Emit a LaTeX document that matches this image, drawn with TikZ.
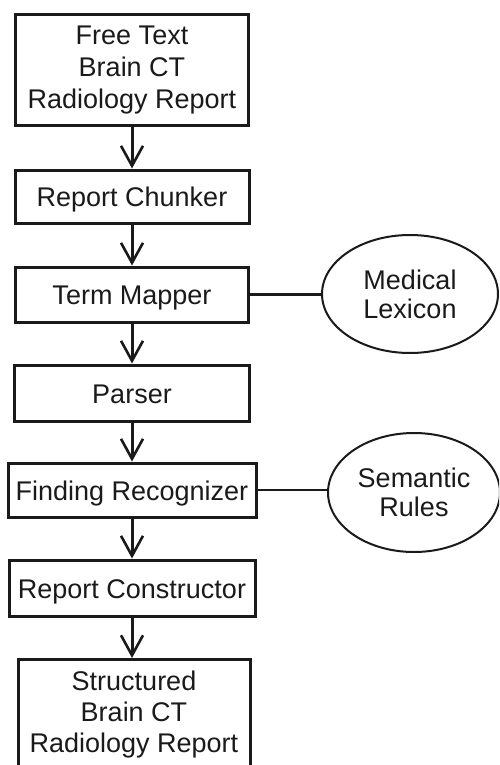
\documentclass[tikz,border=0pt]{standalone}
\usepackage{fontspec}
\setmainfont{Liberation Sans}
\usetikzlibrary{arrows.meta,shapes.geometric}
\definecolor{ink}{HTML}{1A1A1A}
\begin{document}
\begin{tikzpicture}[x=1pt,y=-1pt,
  stage/.style={draw=ink, line width=3pt, rectangle, inner sep=0pt,
    align=center, text=ink, font=\fontsize{27}{32}\selectfont},
  oneline/.style={text height=20pt, text depth=0pt},
  source/.style={ellipse, draw=ink, line width=2pt, inner sep=0pt,
    minimum width=176pt, minimum height=118pt,
    align=center, text=ink, font=\fontsize{27}{29}\selectfont},
  flow/.style={draw=ink, line width=3pt,
    -{Straight Barb[length=20pt,width=22pt,line width=2.6pt]}},
  link/.style={draw=ink, line width=2.2pt}]
\useasboundingbox (0,0) rectangle (499,765);
\clip (0,0) rectangle (499,765);

% pipeline stages
\node[stage, minimum width=233pt, minimum height=111pt] (input) at (132,70.5)
  {Free Text\\Brain CT\\Radiology Report};
\node[stage, oneline, minimum width=234pt, minimum height=53pt] (chunker) at (132,196.5)
  {Report Chunker};
\node[stage, oneline, minimum width=233pt, minimum height=55pt] (mapper) at (132,294.5)
  {Term Mapper};
\node[stage, oneline, minimum width=235pt, minimum height=56pt] (parser) at (132,393)
  {Parser};
\node[stage, oneline, minimum width=248pt, minimum height=54pt] (recog) at (132,490)
  {Finding Recognizer};
\node[stage, oneline, minimum width=246pt, minimum height=56pt] (constr) at (132,588)
  {Report Constructor};
\node[stage, minimum width=232pt, minimum height=140pt, anchor=north] (output) at (134,658) {};
\node[align=center, text=ink, font=\fontsize{27}{31}\selectfont, anchor=north]
  (outtext) at ([yshift=-9pt]output.north) {Structured\\Brain CT\\Radiology Report};

% knowledge sources
\node[source] (lexicon) at (410,294) {Medical\\Lexicon};
\node[source, minimum width=172pt, minimum height=119pt] (rules) at (414,492.5) {Semantic\\Rules};

% flow arrows
\draw[flow] (input.south) -- (input.south |- chunker.north);
\draw[flow] (chunker.south) -- (chunker.south |- mapper.north);
\draw[flow] (mapper.south) -- (mapper.south |- parser.north);
\draw[flow] (parser.south) -- (parser.south |- recog.north);
\draw[flow] (recog.south) -- (recog.south |- constr.north);
\draw[flow] (constr.south) -- (constr.south |- output.north);

% links to knowledge sources
\draw[link] (mapper.east) -- (mapper.east -| lexicon.west);
\draw[link] (recog.east) -- (recog.east -| rules.west);
\end{tikzpicture}
\end{document}
